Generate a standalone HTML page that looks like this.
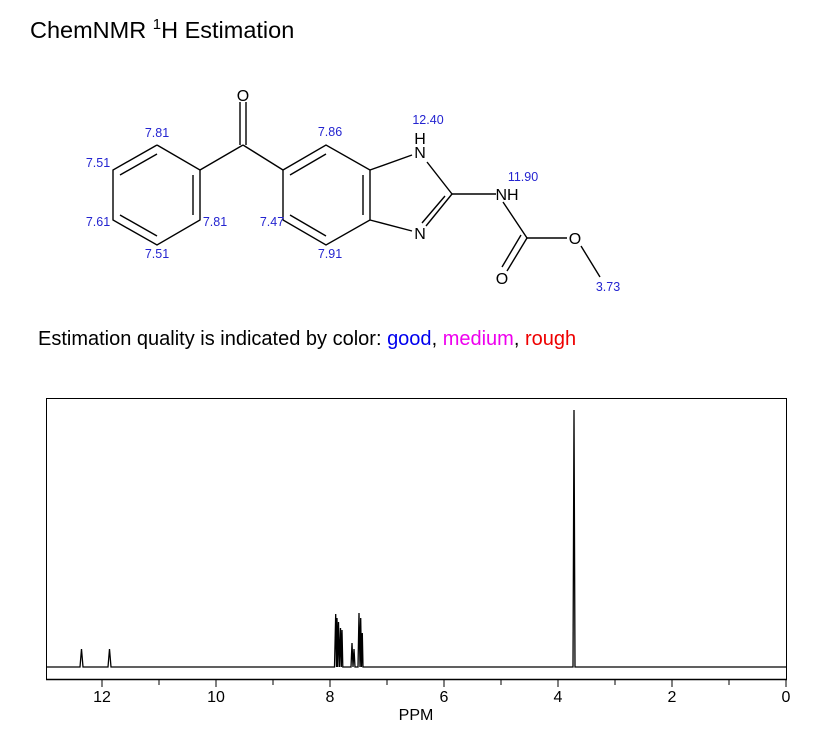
<!DOCTYPE html>
<html><head><meta charset="utf-8"><style>
html,body{margin:0;padding:0;background:#fff;width:839px;height:734px;overflow:hidden}
svg{display:block}
</style></head><body>
<svg width="839" height="734" xmlns="http://www.w3.org/2000/svg" font-family="Liberation Sans, Arial, sans-serif">
<text x="30" y="38" font-size="23.5" fill="#000">ChemNMR <tspan font-size="15" dy="-9">1</tspan><tspan dy="9">H Estimation</tspan></text>

<g stroke="#000" stroke-width="1.4" fill="none">
<polyline points="157,145 200,170 200,220 157,245 113,220 113,170 157,145"/>
<line x1="157" y1="154" x2="120" y2="175"/>
<line x1="193" y1="175" x2="193" y2="215"/>
<line x1="120" y1="215" x2="157" y2="236"/>
<line x1="200" y1="170" x2="243" y2="145"/>
<line x1="243" y1="145" x2="283" y2="170"/>
<line x1="240" y1="145" x2="240" y2="102"/>
<line x1="246" y1="145" x2="246" y2="102"/>
<polyline points="283,170 326,145 370,170 370,220 326,245 283,220 283,170"/>
<line x1="290" y1="175" x2="326" y2="154"/>
<line x1="363" y1="175" x2="363" y2="215"/>
<line x1="290" y1="215" x2="326" y2="236"/>
<line x1="370" y1="170" x2="412" y2="155"/>
<line x1="370" y1="220" x2="412" y2="231"/>
<line x1="427" y1="162" x2="452" y2="194"/>
<line x1="452" y1="194" x2="426" y2="226"/>
<line x1="445" y1="196" x2="422" y2="223"/>
<line x1="452" y1="194" x2="496" y2="194"/>
<line x1="503" y1="202" x2="527" y2="238"/>
<line x1="527" y1="238" x2="567" y2="238"/>
<line x1="527" y1="238" x2="507" y2="271"/>
<line x1="521" y1="235" x2="502" y2="267"/>
<line x1="581" y1="246" x2="600" y2="277"/>
</g>
<g font-size="16" fill="#000" text-anchor="middle">
<text x="243" y="101">O</text>
<text x="420" y="158">N</text>
<text x="420" y="144">H</text>
<text x="420" y="239">N</text>
<text x="507" y="200">NH</text>
<text x="575" y="244">O</text>
<text x="502" y="284">O</text>
</g>
<g font-size="12.5" fill="#2424d0" text-anchor="middle">
<text x="157" y="137">7.81</text>
<text x="98" y="167">7.51</text>
<text x="98" y="226">7.61</text>
<text x="215" y="226">7.81</text>
<text x="157" y="258">7.51</text>
<text x="330" y="136">7.86</text>
<text x="272" y="226">7.47</text>
<text x="330" y="258">7.91</text>
<text x="428" y="124">12.40</text>
<text x="523" y="181">11.90</text>
<text x="608" y="291">3.73</text>
</g>
<text x="38" y="345" font-size="20" fill="#000">Estimation quality is indicated by color: <tspan fill="#0000ee">good</tspan>, <tspan fill="#ee00ee">medium</tspan>, <tspan fill="#ee0000">rough</tspan></text>

<rect x="46.5" y="398.5" width="740" height="281" fill="none" stroke="#000" stroke-width="1"/>
<line x1="46" y1="679.5" x2="787" y2="679.5" stroke="#000" stroke-width="1.5"/>
<g stroke="#000" stroke-width="1">
<line x1="102" y1="680" x2="102" y2="687"/><line x1="216" y1="680" x2="216" y2="687"/>
<line x1="330" y1="680" x2="330" y2="687"/><line x1="444" y1="680" x2="444" y2="687"/>
<line x1="558" y1="680" x2="558" y2="687"/><line x1="672" y1="680" x2="672" y2="687"/>
<line x1="786" y1="680" x2="786" y2="687"/>
<line x1="159" y1="680" x2="159" y2="685"/><line x1="273" y1="680" x2="273" y2="685"/>
<line x1="387" y1="680" x2="387" y2="685"/><line x1="501" y1="680" x2="501" y2="685"/>
<line x1="615" y1="680" x2="615" y2="685"/><line x1="729" y1="680" x2="729" y2="685"/>
</g>
<g font-size="16" fill="#000" text-anchor="middle">
<text x="102" y="702">12</text><text x="216" y="702">10</text><text x="330" y="702">8</text>
<text x="444" y="702">6</text><text x="558" y="702">4</text><text x="672" y="702">2</text>
<text x="786" y="702">0</text>
<text x="416" y="720">PPM</text>
</g>
<path fill="none" stroke="#000" stroke-width="1.3" d="M46,667 L80,667 L81.5,649 L83,667 L108,667 L109.5,649 L111,667
L334.5,667 L335.7,614 L336.5,667 L337,618 L337.7,667 L338.5,622 L339.5,667 L340.5,628 L341.3,667 L342,630 L342.8,667
L351,667 L352,643 L353,667 L354,649 L355,667 L358,667 L359,613 L360,667 L360.7,618 L361.5,667 L362.3,633 L363,667
L573,667 L574,410 L575,667 L786,667"/>
</svg>
</body></html>
